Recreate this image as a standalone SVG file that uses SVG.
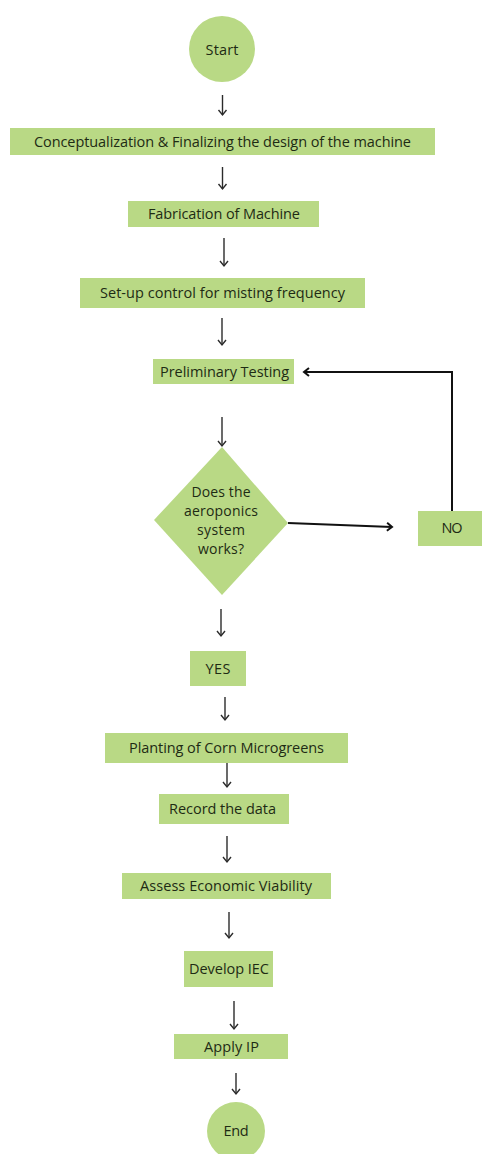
<svg xmlns="http://www.w3.org/2000/svg" width="482" height="1154" viewBox="0 0 482 1154">
<style>
.n{fill:#b9d985;}
.t{font-family:"Open Sans","Liberation Sans",sans-serif;font-size:14.5px;font-weight:500;fill:#1e2b14;text-anchor:middle;}
.d{font-size:14px;}
.a{stroke:#2b2b2b;stroke-width:1.4;fill:none;}
.b{stroke:#111;stroke-width:2;fill:none;}
</style>
<defs>
<marker id="m" markerUnits="userSpaceOnUse" markerWidth="12" markerHeight="12" refX="6" refY="6" orient="auto">
<path d="M1,2 L6,6 L1,10" fill="none" stroke="#2b2b2b" stroke-width="1.4"/>
</marker>
<marker id="mb" markerUnits="userSpaceOnUse" markerWidth="12" markerHeight="12" refX="6" refY="6" orient="auto">
<path d="M1,2 L6,6 L1,10" fill="none" stroke="#111" stroke-width="2"/>
</marker>
</defs>
<rect width="482" height="1154" fill="#ffffff"/>
<g id="connectors">
<line class="a" x1="222.5" y1="95" x2="222.5" y2="115" marker-end="url(#m)"/>
<line class="a" x1="222.5" y1="167" x2="222.5" y2="189" marker-end="url(#m)"/>
<line class="a" x1="224" y1="238" x2="224" y2="266" marker-end="url(#m)"/>
<line class="a" x1="222" y1="318" x2="222" y2="345" marker-end="url(#m)"/>
<line class="a" x1="222" y1="417" x2="222" y2="446" marker-end="url(#m)"/>
<line class="a" x1="221" y1="609" x2="221" y2="636" marker-end="url(#m)"/>
<line class="a" x1="225" y1="697" x2="225" y2="720" marker-end="url(#m)"/>
<line class="a" x1="227" y1="763" x2="227" y2="787" marker-end="url(#m)"/>
<line class="a" x1="227" y1="836" x2="227" y2="862" marker-end="url(#m)"/>
<line class="a" x1="229" y1="912" x2="229" y2="938" marker-end="url(#m)"/>
<line class="a" x1="234" y1="1001" x2="234" y2="1029" marker-end="url(#m)"/>
<line class="a" x1="236" y1="1073" x2="236" y2="1094" marker-end="url(#m)"/>
<path class="b" d="M288,523 L392,527" marker-end="url(#mb)"/>
<path class="b" d="M452,511 V372 H304" marker-end="url(#mb)"/>
</g>
<g id="start"><circle class="n" cx="222" cy="49" r="33"/><text class="t" x="222" y="54.5" textLength="33">Start</text></g>
<g id="design"><rect class="n" x="10" y="128" width="425" height="27"/><text class="t" x="222.5" y="146.5" textLength="377">Conceptualization &amp; Finalizing the design of the machine</text></g>
<g id="fabrication"><rect class="n" x="128" y="201" width="191" height="26"/><text class="t" x="224" y="219" textLength="152">Fabrication of Machine</text></g>
<g id="setup"><rect class="n" x="80" y="278" width="285" height="30"/><text class="t" x="222.5" y="298" textLength="245">Set-up control for misting frequency</text></g>
<g id="testing"><rect class="n" x="153" y="359" width="141" height="25"/><text class="t" x="224.5" y="377" textLength="129">Preliminary Testing</text></g>
<g id="decision"><polygon class="n" points="222,447 288,523 222,595 154,520"/>
<text class="t d" x="221" y="497" textLength="59">Does the</text>
<text class="t d" x="221" y="516" textLength="74">aeroponics</text>
<text class="t d" x="221" y="535" textLength="48">system</text>
<text class="t d" x="221" y="554" textLength="46">works?</text></g>
<g id="no"><rect class="n" x="418" y="511" width="64" height="35"/><text class="t" x="452" y="533" textLength="21">NO</text></g>
<g id="yes"><rect class="n" x="190" y="651" width="56" height="35"/><text class="t" x="218" y="673.5" textLength="25">YES</text></g>
<g id="planting"><rect class="n" x="105" y="733" width="243" height="30"/><text class="t" x="226.5" y="753" textLength="195">Planting of Corn Microgreens</text></g>
<g id="record"><rect class="n" x="159" y="794" width="130" height="30"/><text class="t" x="222.5" y="814" textLength="107">Record the data</text></g>
<g id="assess"><rect class="n" x="122" y="873" width="209" height="26"/><text class="t" x="226" y="891" textLength="172">Assess Economic Viability</text></g>
<g id="iec"><rect class="n" x="184" y="951" width="89" height="36"/><text class="t" x="229" y="974" textLength="80">Develop IEC</text></g>
<g id="ip"><rect class="n" x="174" y="1034" width="114" height="25"/><text class="t" x="231.5" y="1052" textLength="55">Apply IP</text></g>
<g id="end"><circle class="n" cx="236" cy="1131" r="29"/><text class="t" x="236" y="1136" textLength="25">End</text></g>
</svg>
